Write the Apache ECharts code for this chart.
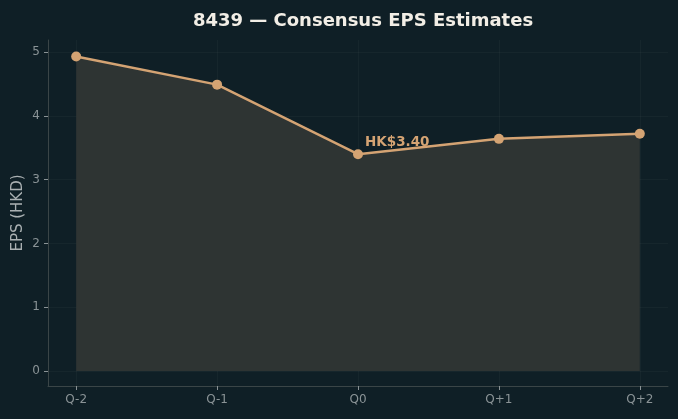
<!DOCTYPE html>
<html>
<head>
    <meta charset="utf-8">
    <title>8439 EPS</title>
    <script src="https://cdn.jsdelivr.net/npm/echarts@6/dist/echarts.min.js"></script>
    <style>
        html, body { margin: 0; padding: 0; background: #0f1f26; }
        #chart { width: 678px; height: 419px; }
    </style>
</head>
<body>
<div id="chart"></div>
<script>
    // 数据
    var quarters = ['Q-2', 'Q-1', 'Q0', 'Q+1', 'Q+2'];
    var epsValues = [4.93, 4.49, 3.40, 3.64, 3.72];
    var xTicks = [0, 1, 2, 3, 4];
    var yTicks = [0, 1, 2, 3, 4, 5];
    var labelIndex = 2;

    var chart = echarts.init(document.getElementById('chart'), null, {renderer: 'canvas'});

    var points = epsValues.map(function (v, i) {
        var p = {value: [i, v]};
        if (i === labelIndex) {
            p.label = {
                show: true,
                position: 'right',
                offset: [-3, -12],
                formatter: 'HK$' + v.toFixed(2),
                color: '#d4a373',
                fontWeight: 'bold',
                fontSize: 13.5,
                fontFamily: 'DejaVu Sans'
            };
        }
        return p;
    });

    var tickColor = '#8a9396';
    var spineColor = '#3a4547';

    var option = {
        backgroundColor: '#0f1f26',
        animation: false,
        title: {
            text: '8439 — Consensus EPS Estimates',
            left: 358,
            textAlign: 'center',
            top: 7,
            textStyle: {
                color: '#f2eee6',
                fontSize: 18,
                fontWeight: 'bold',
                fontFamily: 'DejaVu Sans'
            }
        },
        grid: {left: 48, right: 10, top: 40, bottom: 33, outerBoundsMode: 'none'},
        xAxis: {
            type: 'value',
            min: -0.2,
            max: 4.2,
            axisLine: {show: true, onZero: false, lineStyle: {color: spineColor}},
            axisTick: {show: true, customValues: xTicks, length: 4, lineStyle: {color: tickColor}},
            axisLabel: {
                customValues: xTicks,
                formatter: function (v) { return quarters[Math.round(v)]; },
                color: tickColor,
                fontSize: 12,
                margin: 8,
                fontFamily: 'DejaVu Sans'
            },
            splitLine: {show: true, lineStyle: {color: 'rgba(255,255,255,0.03)'}}
        },
        yAxis: {
            type: 'value',
            min: -0.235,
            max: 5.19,
            name: 'EPS (HKD)',
            nameLocation: 'middle',
            nameGap: 22,
            nameMoveOverlap: false,
            nameTextStyle: {color: '#aab0b2', fontSize: 15, fontFamily: 'DejaVu Sans'},
            axisLine: {show: true, onZero: false, lineStyle: {color: spineColor}},
            axisTick: {show: true, customValues: yTicks, length: 4, lineStyle: {color: tickColor}},
            axisLabel: {
                customValues: yTicks,
                color: tickColor,
                fontSize: 12,
                margin: 8,
                fontFamily: 'DejaVu Sans'
            },
            splitLine: {show: true, lineStyle: {color: 'rgba(255,255,255,0.03)'}}
        },
        series: [
            {
                type: 'line',
                data: points,
                symbol: 'circle',
                symbolSize: 10,
                showAllSymbol: true,
                lineStyle: {color: '#d4a373', width: 2.5},
                itemStyle: {color: '#d4a373'},
                areaStyle: {color: '#2e3433', origin: 0, opacity: 1}
            }
        ]
    };
    chart.setOption(option);
</script>
</body>
</html>
